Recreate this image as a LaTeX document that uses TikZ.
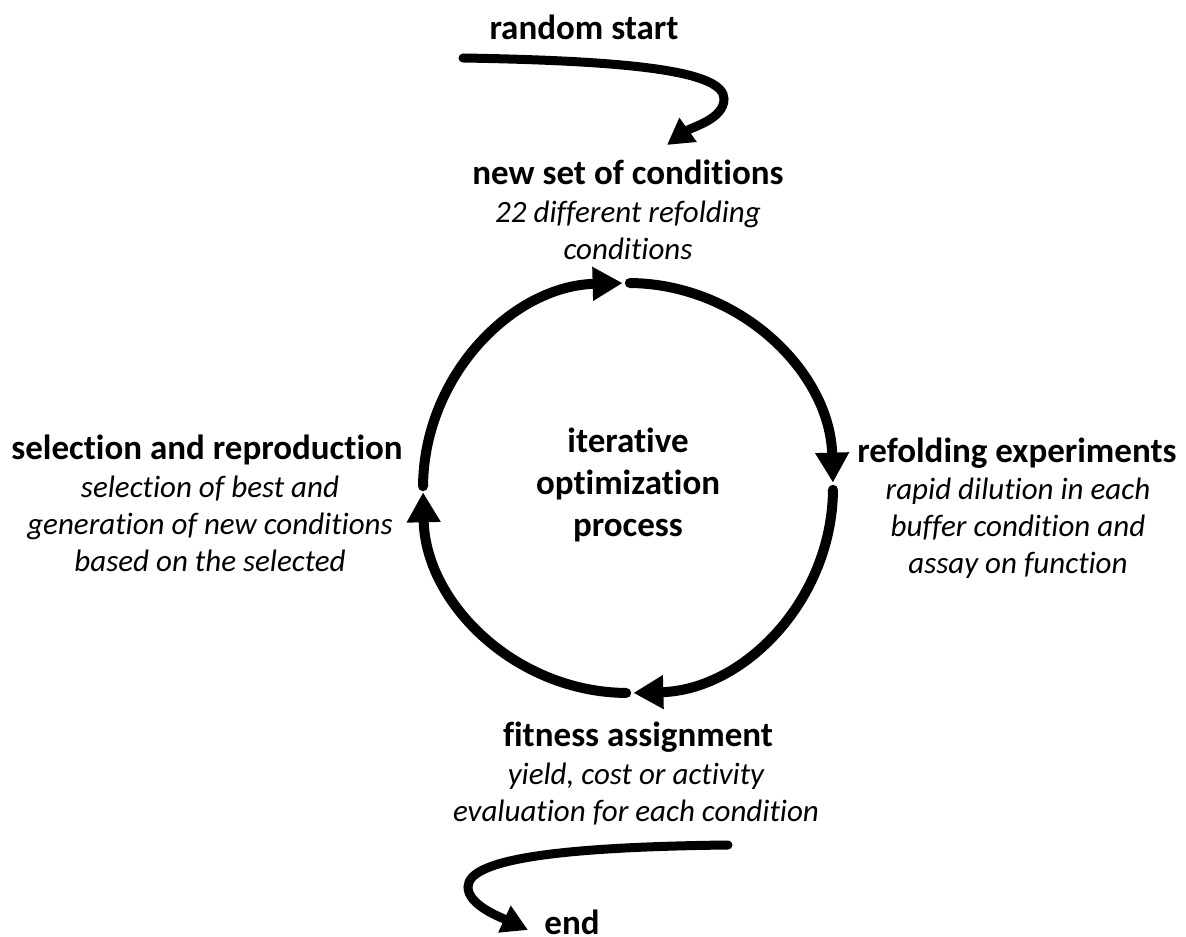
\documentclass[tikz,border=0pt]{standalone}
\usepackage{fontspec}
\setmainfont{Carlito}[Ligatures=CommonOff]
\usetikzlibrary{arrows.meta}
% lines stacked with the first baseline as the node's base
\newcommand{\lines}[1]{\begin{tabular}[t]{@{}c@{}}#1\end{tabular}}
\begin{document}
\begin{tikzpicture}[x=1pt,y=1pt,
  cycle/.style={line width=10pt, line cap=round, -{Triangle[length=30pt,width=32pt]}},
  flow/.style={line width=9pt, line cap=round, -{Triangle[length=26pt,width=28pt]}},
  title/.style={font=\fontsize{35}{42}\selectfont\bfseries, anchor=base, inner sep=0pt},
  desc/.style={font=\fontsize{31}{37}\selectfont\itshape, anchor=base, inner sep=0pt},
]
\useasboundingbox (0,0) rectangle (1186,937);

% centre of the cycle
\coordinate (C) at (628,449);

% labels
\node[title] (start) at (584,897) {random start};
\node[title] (newset) at (628,752) {new set of conditions};
\node[desc]  (newsetd) at (628,714) {\lines{22 different refolding\\conditions}};
\node[title] (refold) at (1017,474) {refolding experiments};
\node[desc]  (refoldd) at (1018,437) {\lines{rapid dilution in each\\buffer condition and\\assay on function}};
\node[title] (select) at (207,477) {selection and reproduction};
\node[desc]  (selectd) at (210,439) {\lines{selection of best and\\generation of new conditions\\based on the selected}};
\node[title] (fitness) at (638,190) {fitness assignment};
\node[desc]  (fitnessd) at (636,152) {\lines{yield, cost or activity\\evaluation for each condition}};
\node[title, font=\fontsize{35}{42}\selectfont\bfseries] (core) at (628,484) {\lines{iterative\\optimization\\process}};
\node[title] (finish) at (572,2) {end};

% the four quarter arcs of the cycle
\draw[cycle] ([shift={(179.5:205)}]C) arc[start angle=179.5, end angle=91.5, radius=205];
\draw[cycle] ([shift={(89.5:205)}]C) arc[start angle=89.5, end angle=1.5, radius=205];
\draw[cycle] ([shift={(-0.5:205)}]C) arc[start angle=-0.5, end angle=-88.5, radius=205];
\draw[cycle] ([shift={(-90.5:205)}]C) arc[start angle=-90.5, end angle=-178.8, radius=205];

% entry and exit arrows
\coordinate (in0) at (463,879);
\coordinate (in1) at (667,792);
\draw[flow] (in0) .. controls (640,876) and (724,865) .. (724,838)
                  .. controls (724,818) and (692,810) .. (in1);
\coordinate (out0) at (728,92);
\coordinate (out1) at (528,7);
\draw[flow] (out0) .. controls (560,90) and (468,78) .. (468,50)
                   .. controls (468,32) and (500,20) .. (out1);
\end{tikzpicture}
\end{document}
